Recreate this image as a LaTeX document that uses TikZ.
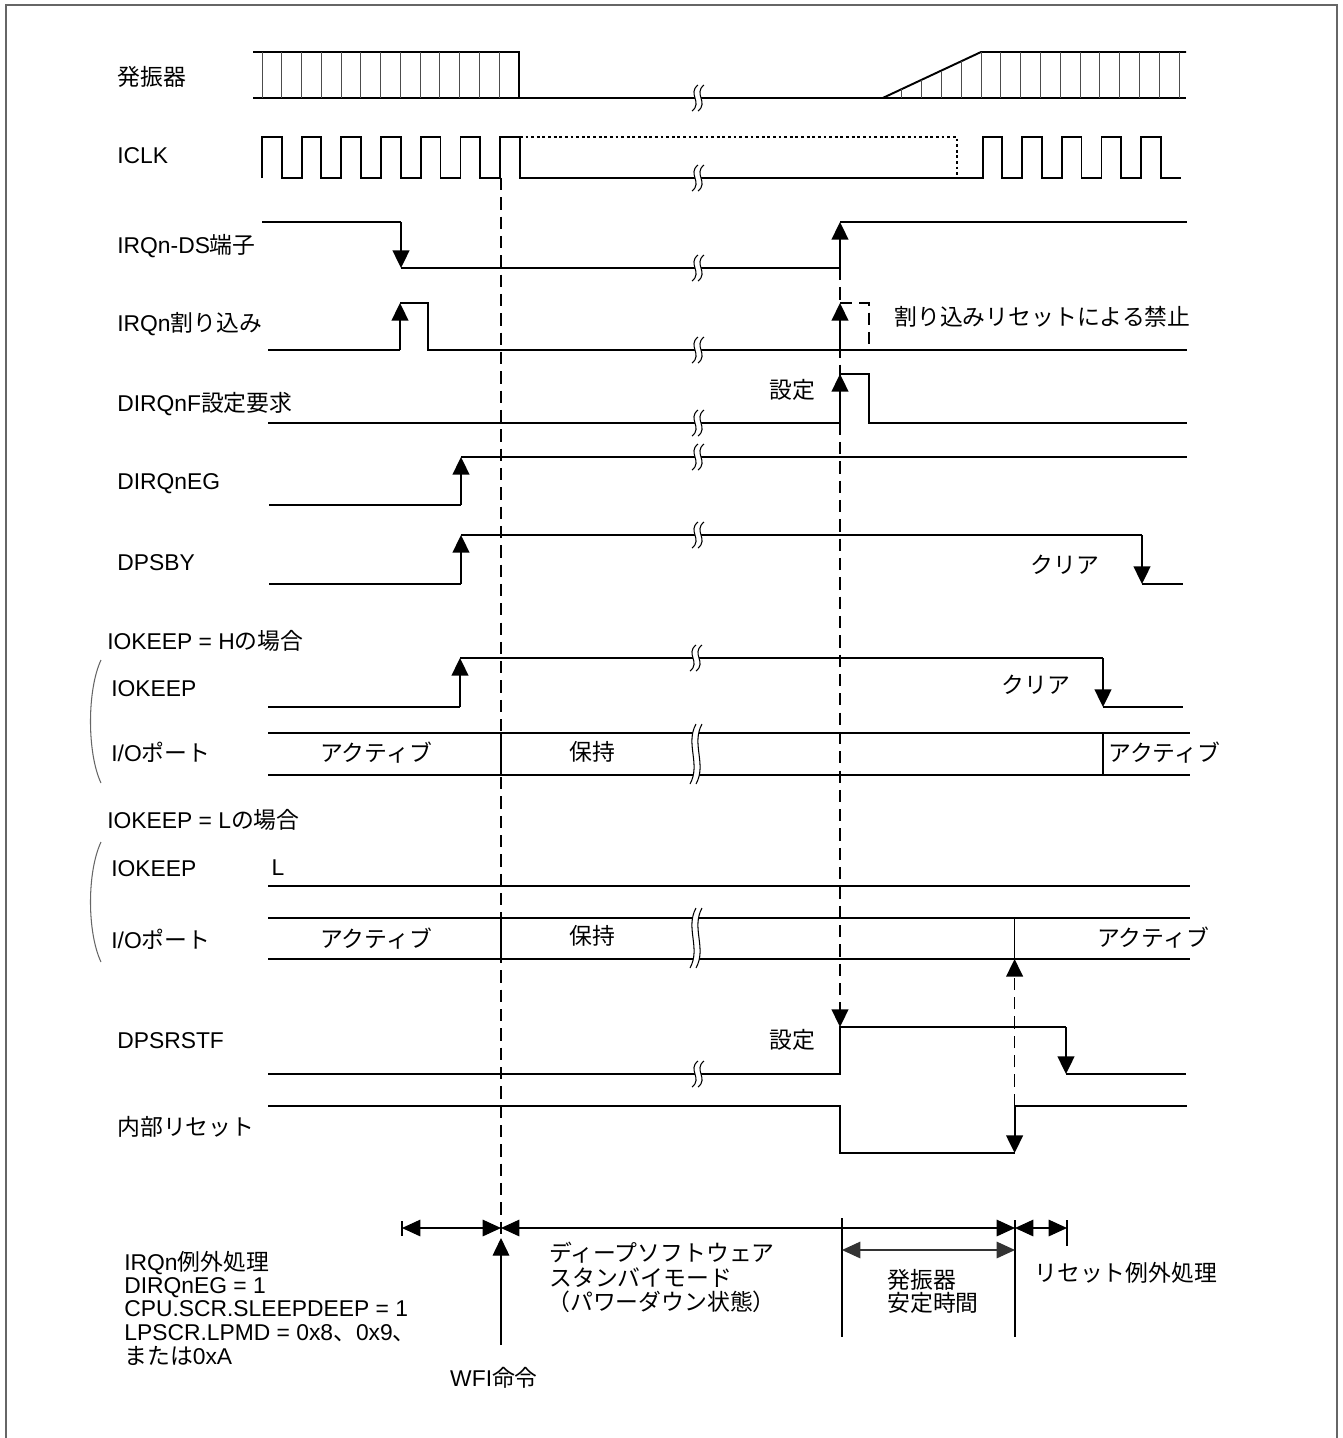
\documentclass[tikz,border=0pt]{standalone}
\usepackage{fontspec}
\setmainfont{Liberation Sans}
\newfontfamily\jpf{Noto Sans CJK JP}
\newcommand{\jp}[1]{{\jpf #1}}
\usetikzlibrary{arrows.meta}

\newcommand{\brkmark}[3]{%
  \fill[white] ({#1+3},{#2-#3}) .. controls ({#1-8},{#2-#3/3}) and ({#1+8},{#2+#3/3}) .. ({#1-3},{#2+#3})
    -- ({#1+3},{#2+#3}) .. controls ({#1+14},{#2+#3/3}) and ({#1-2},{#2-#3/3}) .. ({#1+9},{#2-#3}) -- cycle;
  \draw[hair] ({#1+3},{#2-#3}) .. controls ({#1-8},{#2-#3/3}) and ({#1+8},{#2+#3/3}) .. ({#1-3},{#2+#3});
  \draw[hair] ({#1+9},{#2-#3}) .. controls ({#1-2},{#2-#3/3}) and ({#1+14},{#2+#3/3}) .. ({#1+3},{#2+#3});
}

\begin{document}
\begin{tikzpicture}[x=0.02cm, y=-0.02cm,
  every node/.style={font=\fontsize{13}{15}\selectfont},
  sig/.style={line width=1.1pt},
  hair/.style={line width=0.6pt},
  hatch/.style={line width=0.55pt, black!70},
  dsh/.style={line width=1pt, dash pattern=on 7pt off 4pt},
  dotline/.style={line width=0.9pt, dash pattern=on 1.6pt off 1.6pt},
  arr/.style={-{Triangle[length=10pt,width=9.5pt]}},
  dimarr/.style={line width=0.6pt, {Triangle[length=10.5pt,width=9.5pt]}-{Triangle[length=10.5pt,width=9.5pt]}},
  lbl/.style={anchor=west, inner sep=0pt, text height=11.5pt, text depth=2pt},
  outerframe/.style={line width=1pt, black!60}]
  \useasboundingbox (0,0) rectangle (1343,1438);
  \draw[outerframe] (6,1438) -- (6,5) -- (1337,5) -- (1337,1438);

  % signal names
  \node[lbl] (osc) at (117,77) {\jp{発振器}};
  \node[lbl] (iclk) at (117,155) {ICLK};
  \node[lbl] (irqds) at (117,245) {IRQn-DS\jp{端子}};
  \node[lbl] (irqint) at (117,323) {IRQn\jp{割り込み}};
  \node[lbl] (dirqf) at (117,403) {DIRQnF\jp{設定要求}};
  \node[lbl] (dirqeg) at (117,481) {DIRQnEG};
  \node[lbl] (dpsby) at (117,562) {DPSBY};
  \node[lbl] (caseh) at (107,641) {IOKEEP = H\jp{の場合}};
  \node[lbl] (keeph) at (111,688) {IOKEEP};
  \node[lbl] (porth) at (111,753) {I/O\jp{ポート}};
  \node[lbl] (casel) at (107,820) {IOKEEP = L\jp{の場合}};
  \node[lbl] (keepl) at (111,868) {IOKEEP};
  \node[lbl] (portl) at (111,940) {I/O\jp{ポート}};
  \node[lbl] (dpsrstf) at (117,1040) {DPSRSTF};
  \node[lbl] (intrst) at (117,1127) {\jp{内部リセット}};

  \draw[hair, black!60] (101,660) .. controls (87,690) and (87,753) .. (101,783);
  \draw[hair, black!60] (101,842) .. controls (87,872) and (87,932) .. (101,962);

  % oscillator
  \draw[sig] (253,52) -- (519,52) -- (519,98);
  \draw[sig] (253,98) -- (882.7,98) -- (981,52) -- (1186,52);
  \draw[sig] (882.7,98) -- (1186,98);
  \foreach \i in {0,...,12} \draw[hatch] ({262+19.77*\i},52) -- ++(0,46);
  \foreach \x in {901,921,941,961} \draw[hatch] (\x,98) -- (\x,{98-(\x-882.7)*46/98.3});
  \foreach \i in {0,...,10} \draw[hatch] ({981+19.8*\i},52) -- ++(0,46);
  \brkmark{695}{98}{13}

  % ICLK
  \draw[sig] (262,178) \foreach \i in {1,...,7} {-- ++(0,-41) -- ++(19.7,0) -- ++(0,41) -- ++(20,0)}
    -- (982.7,178) \foreach \i in {1,...,5} {-- ++(0,-41) -- ++(19.6,0) -- ++(0,41) -- ++(20,0)};
  \draw[dotline] (520,137) -- (957,137) -- (957,178);
  \brkmark{695}{178}{13}

  % IRQn-DS
  \draw[sig] (262,222) -- (401,222);
  \draw[sig, arr] (401,222) -- (401,268);
  \draw[sig] (401,268) -- (840,268);
  \draw[sig, arr] (840,268) -- (840,222);
  \draw[sig] (840,222) -- (1187,222);
  \brkmark{695}{268}{13}

  % IRQn interrupt
  \draw[sig] (268,350) -- (400,350);
  \draw[sig, arr] (400,350) -- (400,303);
  \draw[sig] (400,303) -- (428,303) -- (428,350) -- (1187,350);
  \draw[dsh] (840,303) -- (869,303) -- (869,350);
  \node[lbl] (inhibit) at (894,317) {\jp{割り込みリセットによる禁止}};
  \brkmark{695}{350}{13}

  % DIRQnF
  \draw[sig] (268,423) -- (840,423);
  \draw[sig, arr] (840,423) -- (840,374);
  \draw[sig] (840,374) -- (869,374) -- (869,423) -- (1187,423);
  \node[inner sep=0pt] (set1) at (792.5,390) {\jp{設定}};
  \brkmark{695}{423}{13}

  % DIRQnEG
  \draw[sig] (269,505) -- (461,505);
  \draw[sig, arr] (461,505) -- (461,457);
  \draw[sig] (461,457) -- (1187,457);
  \brkmark{695}{457}{13}

  % DPSBY
  \draw[sig] (269,584) -- (461,584);
  \draw[sig, arr] (461,584) -- (461,535);
  \draw[sig] (461,535) -- (1142,535);
  \draw[sig, arr] (1142,535) -- (1142,584);
  \draw[sig] (1142,584) -- (1183,584);
  \node[inner sep=0pt] (clr1) at (1065,565) {\jp{クリア}};
  \brkmark{695}{535}{13}

  % IOKEEP = H
  \draw[sig] (268,707) -- (460,707);
  \draw[sig, arr] (460,707) -- (460,658);
  \draw[sig] (460,658) -- (1103,658);
  \draw[sig, arr] (1103,658) -- (1103,707);
  \draw[sig] (1103,707) -- (1183,707);
  \node[inner sep=0pt] (clr2) at (1036,685) {\jp{クリア}};
  \brkmark{693}{658}{13}

  \draw[sig] (268,733) -- (1190,733);
  \draw[sig] (268,775) -- (1190,775);
  \draw[hair] (501,733) -- (501,775);
  \draw[hair] (1103,733) -- (1103,775);
  \node[inner sep=0pt] (acth1) at (376,753) {\jp{アクティブ}};
  \node[inner sep=0pt] (holdh) at (592,752) {\jp{保持}};
  \node[lbl] (acth2) at (1108,753) {\jp{アクティブ}};
  \brkmark{693}{754}{30}

  % IOKEEP = L
  \node[inner sep=0pt] (lvl) at (278,868) {L};
  \draw[sig] (268,886) -- (1190,886);
  \draw[sig] (268,918) -- (1190,918);
  \draw[sig] (268,959) -- (1190,959);
  \draw[hair] (501,918) -- (501,959);
  \draw[hair] (1014.6,918) -- (1014.6,959);
  \node[inner sep=0pt] (actl1) at (376,939) {\jp{アクティブ}};
  \node[inner sep=0pt] (holdl) at (592,936) {\jp{保持}};
  \node[inner sep=0pt] (actl2) at (1153,938) {\jp{アクティブ}};
  \brkmark{693}{938}{30}

  % DPSRSTF
  \draw[sig] (268,1074) -- (840,1074) -- (840,1027) -- (1066,1027);
  \draw[sig, arr] (1066,1027) -- (1066,1074);
  \draw[sig] (1066,1074) -- (1186,1074);
  \node[inner sep=0pt] (set2) at (792.5,1040) {\jp{設定}};
  \brkmark{695}{1074}{13}

  % internal reset
  \draw[sig] (268,1106) -- (840,1106) -- (840,1153) -- (1014.6,1153);
  \draw[sig, arr] (1014.6,1106) -- (1014.6,1153);
  \draw[sig] (1014.6,1106) -- (1187,1106);

  % dashed markers
  \draw[dsh] (501,178) -- (501,1290);
  \draw[dsh, arr] (840,268) -- (840,1027);
  \draw[dsh, arr] (840,350) -- (840,303);
  \draw[dsh, arr] (1014.6,1106) -- (1014.6,959);

  % periods
  \draw[hair] (402,1221) -- (402,1236);
  \draw[hair] (842,1218) -- (842,1337);
  \draw[hair] (1015,1220) -- (1015,1337);
  \draw[hair] (1067,1220) -- (1067,1246);
  \draw[dimarr] (402,1228) -- (501,1228);
  \draw[dimarr] (501,1228) -- (1015,1228);
  \draw[dimarr] (1015,1228) -- (1067,1228);
  \draw[dimarr, black!80] (842,1250) -- (1015,1250);
  \draw[hair, arr] (501,1345) -- (501,1238);

  \node[lbl] (exc1) at (124,1262) {IRQn\jp{例外処理}};
  \node[lbl] (exc2) at (124,1285) {DIRQnEG = 1};
  \node[lbl] (exc3) at (124,1308) {CPU.SCR.SLEEPDEEP = 1};
  \node[lbl] (exc4) at (124,1332) {LPSCR.LPMD = 0x8\jp{、}0x9\jp{、}};
  \node[lbl] (exc5) at (124,1356) {\jp{または}0xA};
  \node[inner sep=0pt] (wfi) at (494,1378) {WFI\jp{命令}};
  \node[lbl] (deep1) at (549,1253) {\jp{ディープソフトウェア}};
  \node[lbl] (deep2) at (549,1278) {\jp{スタンバイモード}};
  \node[lbl] (deep3) at (547,1302) {\jp{（パワーダウン状態）}};
  \node[lbl] (stab1) at (887,1280) {\jp{発振器}};
  \node[lbl] (stab2) at (887,1303) {\jp{安定時間}};
  \node[lbl] (rstexc) at (1034,1273) {\jp{リセット例外処理}};
\end{tikzpicture}
\end{document}
